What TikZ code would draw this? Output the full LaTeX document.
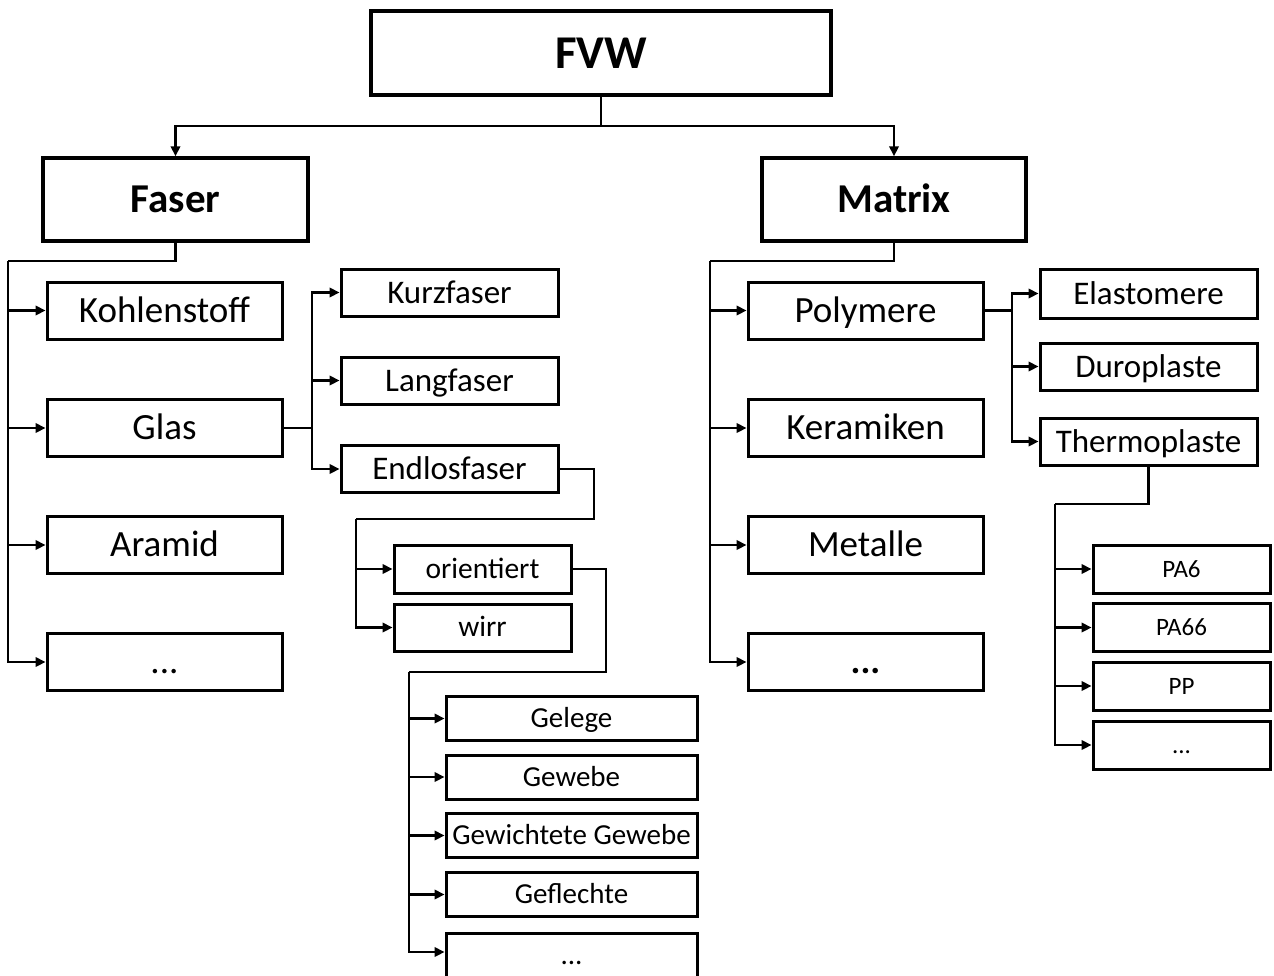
\documentclass[tikz,border=0pt]{standalone}
\usepackage{fontspec}
\setmainfont{Carlito}
\usetikzlibrary{arrows.meta}
\begin{document}
\begin{tikzpicture}[x=1pt,y=-1pt,
  box/.style={draw, line width=3pt, inner sep=0pt, align=center, text depth=0pt},
  fzero/.style={font=\fontsize{47}{56}\selectfont\bfseries, text height=30pt},
  fone/.style={font=\fontsize{41}{49}\selectfont\bfseries, text height=26.2pt},
  ftwo/.style={font=\fontsize{37}{44}\selectfont, text height=23.7pt},
  fthree/.style={font=\fontsize{33}{40}\selectfont, text height=21.1pt},
  ffour/.style={font=\fontsize{29.5}{35}\selectfont, text height=18.9pt},
  ffourb/.style={font=\fontsize{29}{35}\selectfont, text height=18.6pt},
  ffive/.style={font=\fontsize{25}{30}\selectfont, text height=16pt},
  lvlone/.style={box, ftwo, minimum width=235pt, minimum height=57pt},
  lvltwo/.style={box, fthree, minimum width=217pt, minimum height=47pt},
  lvlthree/.style={box, ffour, minimum width=177pt, minimum height=47pt},
  lvlfour/.style={box, ffourb, minimum width=251pt, minimum height=44pt},
  lvlpa/.style={box, ffive, minimum width=177pt, minimum height=48pt},
  conn/.style={line width=2.2pt},
  arr/.style={line width=2.2pt, -{Triangle[length=10pt,width=9.5pt]}}
]
\useasboundingbox (0,0) rectangle (1274,975);
\clip (0,0) rectangle (1274,975);

% top
\node[box, line width=4.5pt, minimum width=460pt, minimum height=84pt, fzero] (fvw) at (601,53) {FVW};
\node[box, line width=3.5pt, minimum width=265pt, minimum height=83pt, fone] (faser) at (175.5,199.5) {Faser};
\node[box, line width=3.5pt, minimum width=264pt, minimum height=83pt, fone] (mat) at (894,199.5) {Matrix};

% Faser level
\node[lvlone] (kohl) at (164.5,310.5) {Kohlenstoff};
\node[lvlone] (glas) at (164.5,428) {Glas};
\node[lvlone] (aramid) at (164.5,545) {Aramid};
\node[lvlone] (fdots) at (164.5,662) {...};

\node[lvltwo] (kurz) at (449.5,292.5) {Kurzfaser};
\node[lvltwo] (lang) at (449.5,380.5) {Langfaser};
\node[lvltwo] (endl) at (449.5,469) {Endlosfaser};

\node[lvlthree, minimum height=48pt] (orient) at (482.5,569) {orientiert};
\node[lvlthree] (wirr) at (482.5,627.5) {wirr};

\node[lvlfour] (gelege) at (571.5,718.5) {Gelege};
\node[lvlfour] (gewebe) at (571.5,777) {Gewebe};
\node[lvlfour] (gewgew) at (571.5,835.5) {Gewichtete Gewebe};
\node[lvlfour] (gefl) at (571.5,894.5) {Geflechte};
\node[lvlfour] (gdots) at (571.5,955) {...};

% Matrix level
\node[lvlone] (poly) at (865.5,310.5) {Polymere};
\node[lvlone] (keram) at (865.5,428) {Keramiken};
\node[lvlone] (metal) at (865.5,545) {Metalle};
\node[lvlone, font=\fontsize{37}{44}\selectfont\bfseries] (mdots) at (865.5,662) {...};

\node[lvltwo, minimum height=49pt] (elast) at (1148.5,293.5) {Elastomere};
\node[lvltwo] (duro) at (1148.5,366.5) {Duroplaste};
\node[lvltwo] (thermo) at (1148.5,441.5) {Thermoplaste};

\node[lvlpa] (pa6) at (1181.5,569) {PA6};
\node[lvlpa] (pa66) at (1181.5,627.5) {PA66};
\node[lvlpa] (pp) at (1181.5,686) {PP};
\node[lvlpa] (pdots) at (1181.5,745) {...};

% connectors
\coordinate (j0) at (601,126);
\draw[conn] (fvw.south) -- (j0);
\draw[arr] (j0) -| (faser.north);
\draw[arr] (j0) -| (mat.north);

\coordinate (jf) at (8,261);
\draw[conn] (faser.south) |- (jf);
\foreach \n in {kohl,glas,aramid,fdots} \draw[arr] (jf) |- (\n.west);

\coordinate (jg) at (glas.east -| 312,0);
\draw[conn] (glas.east) -- (jg);
\foreach \n in {kurz,lang,endl} \draw[arr] (jg) |- (\n.west);

\coordinate (je1) at (594,519);
\coordinate (je2) at (356,519);
\draw[conn] (endl.east) -| (je1) -- (je2);
\foreach \n in {orient,wirr} \draw[arr] (je2) |- (\n.west);

\coordinate (jo1) at (606,672);
\coordinate (jo2) at (409,672);
\draw[conn] (orient.east) -| (jo1) -- (jo2);
\foreach \n in {gelege,gewebe,gewgew,gefl} \draw[arr] (jo2) |- (\n.west);
\draw[arr] (jo2) |- (gdots.west |- 0,952);

\coordinate (jm) at (710,261);
\draw[conn] (mat.south) |- (jm);
\foreach \n in {poly,keram,metal,mdots} \draw[arr] (jm) |- (\n.west);

\coordinate (jp) at (poly.east -| 1012,0);
\draw[conn] (poly.east) -- (jp);
\foreach \n in {elast,duro,thermo} \draw[arr] (jp) |- (\n.west);

\coordinate (jt) at (1055,504);
\draw[conn] (thermo.south) |- (jt);
\foreach \n in {pa6,pa66,pp,pdots} \draw[arr] (jt) |- (\n.west);
\end{tikzpicture}
\end{document}
